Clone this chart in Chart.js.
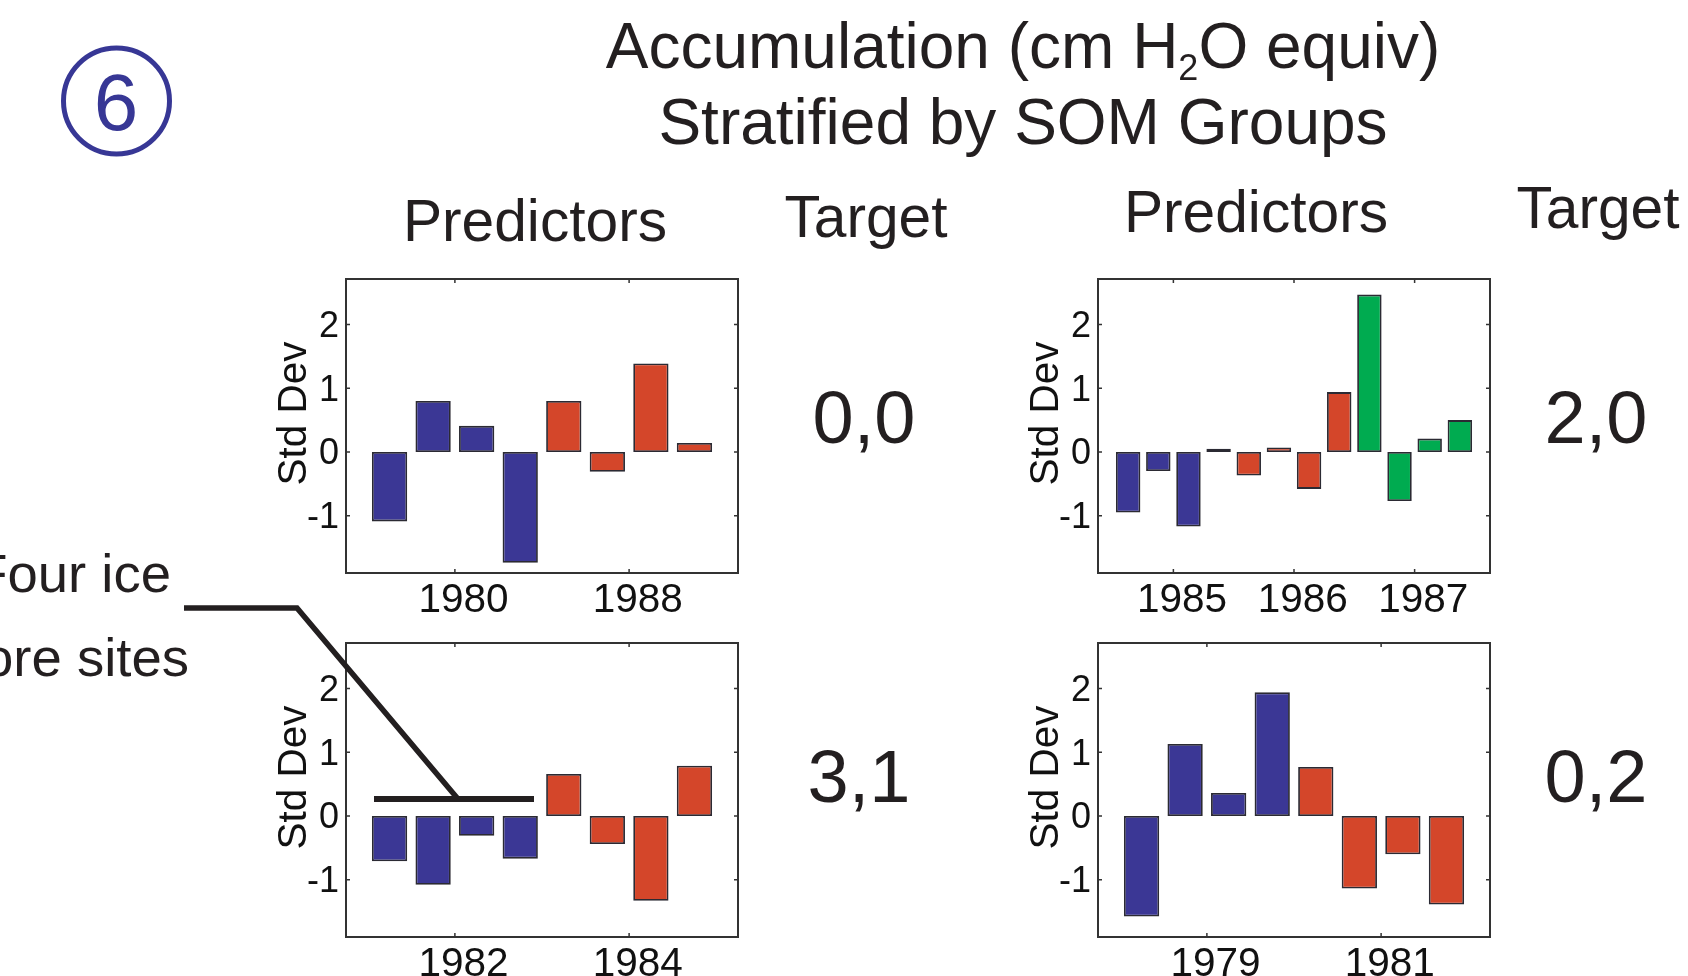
<!DOCTYPE html>
<html>
<head>
<meta charset="utf-8">
<title>Accumulation stratified by SOM groups</title>
<script src="https://cdn.jsdelivr.net/npm/chart.js@4"></script>
<style>
  html, body { margin: 0; padding: 0; background: #fff; }
  #page { position: relative; width: 1688px; height: 976px; overflow: hidden; background: #fff; }
  canvas { position: absolute; }
  #overlay { position: absolute; left: 0; top: 0; pointer-events: none; }
  #overlay text { font-family: "Liberation Sans", Arial, sans-serif; fill: #231f20; }
</style>
</head>
<body>
<div id="page">
  <canvas id="panelTL" width="522" height="364" style="left:226px;top:269px"></canvas>
  <canvas id="panelTR" width="522" height="364" style="left:978px;top:269px"></canvas>
  <canvas id="panelBL" width="522" height="364" style="left:226px;top:633px"></canvas>
  <canvas id="panelBR" width="522" height="364" style="left:978px;top:633px"></canvas>

  <svg id="overlay" width="1688" height="976">
    <circle cx="116.5" cy="101" r="53" fill="none" stroke="#373795" stroke-width="5"/>
    <text x="116" y="130" font-size="80" text-anchor="middle" style="fill:#373795">6</text>

    <text x="1023" y="68" font-size="64" text-anchor="middle">Accumulation (cm H<tspan font-size="36" dy="12">2</tspan><tspan dy="-12">O equiv)</tspan></text>
    <text x="1023" y="144" font-size="64" text-anchor="middle">Stratified by SOM Groups</text>

    <text x="535" y="241" font-size="58.7" text-anchor="middle">Predictors</text>
    <text x="866" y="237" font-size="58.7" text-anchor="middle">Target</text>
    <text x="1256" y="232" font-size="58.7" text-anchor="middle">Predictors</text>
    <text x="1598" y="228" font-size="58.7" text-anchor="middle">Target</text>

    <text x="864" y="443" font-size="74" text-anchor="middle">0,0</text>
    <text x="1596" y="443" font-size="74" text-anchor="middle">2,0</text>
    <text x="859" y="802" font-size="74" text-anchor="middle">3,1</text>
    <text x="1596" y="802" font-size="74" text-anchor="middle">0,2</text>

    <text x="171" y="592" font-size="54.5" text-anchor="end">Four ice</text>
    <text x="189" y="676" font-size="54.5" text-anchor="end">core sites</text>

    <polyline points="184,608 297,608 458,799" fill="none" stroke="#231f20" stroke-width="5.5"/>
    <line x1="374" y1="799" x2="534" y2="799" stroke="#231f20" stroke-width="6"/>
  </svg>
</div>

<script>
// Values, one bar per site per period (std dev units)
const tlValues = [-1.09, 0.80, 0.41, -1.74, 0.80, -0.31, 1.39, 0.14];
const tlGroups = [0, 0, 0, 0, 1, 1, 1, 1];
const tlTickLabels = ['1980', '1988'];

const trValues = [-0.95, -0.30, -1.17, 0.05, -0.37, 0.07, -0.58, 0.94, 2.47, -0.77, 0.21, 0.50];
const trGroups = [0, 0, 0, 0, 1, 1, 1, 1, 2, 2, 2, 2];
const trTickLabels = ['1985', '1986', '1987'];

const blValues = [-0.71, -1.08, -0.31, -0.67, 0.66, -0.44, -1.33, 0.79];
const blGroups = [0, 0, 0, 0, 1, 1, 1, 1];
const blTickLabels = ['1982', '1984'];

const brValues = [-1.58, 1.13, 0.36, 1.94, 0.77, -1.14, -0.60, -1.39];
const brGroups = [0, 0, 0, 0, 1, 1, 1, 1];
const brTickLabels = ['1979', '1981'];

const yTickValues = [-1, 0, 1, 2];
const yTitle = 'Std Dev';

const groupColors = ['#3b3795', '#d4462a', '#00ab50'];
const frameColor = '#333333';
const fontName = '"Liberation Sans", Arial, sans-serif';

// Frame, inward ticks on all four sides, and the y label (sits above the axis centre)
const framePlugin = {
  id: 'frame',
  afterDatasetsDraw(chart) {
    const { ctx, chartArea: a, scales } = chart;
    ctx.save();
    ctx.strokeStyle = frameColor;
    ctx.lineWidth = 2;
    ctx.strokeRect(a.left, a.top, a.right - a.left, a.bottom - a.top);
    ctx.lineWidth = 1.5;
    ctx.beginPath();
    scales.x.ticks.forEach(t => {
      const px = scales.x.getPixelForValue(t.value);
      ctx.moveTo(px, a.bottom); ctx.lineTo(px, a.bottom - 4);
      ctx.moveTo(px, a.top); ctx.lineTo(px, a.top + 4);
    });
    scales.y.ticks.forEach(t => {
      const py = scales.y.getPixelForValue(t.value);
      ctx.moveTo(a.left, py); ctx.lineTo(a.left + 4, py);
      ctx.moveTo(a.right, py); ctx.lineTo(a.right - 4, py);
    });
    ctx.stroke();
    ctx.translate(69, (a.top + a.bottom) / 2 - 12.5);
    ctx.rotate(-Math.PI / 2);
    ctx.fillStyle = '#111111';
    ctx.font = '40.5px ' + fontName;
    ctx.textAlign = 'center';
    ctx.textBaseline = 'middle';
    ctx.fillText(yTitle, 0, 0);
    ctx.restore();
  }
};

function makePanel(id, values, groups, tickLabels) {
  const ctx = document.getElementById(id).getContext('2d');
  return new Chart(ctx, {
    type: 'bar',
    plugins: [framePlugin],
    data: {
      labels: values.map((v, i) => i),
      datasets: [{
        data: values,
        backgroundColor: groups.map(g => groupColors[g]),
        borderColor: '#2b2a33',
        borderWidth: 1.8,
        borderSkipped: false,
        barPercentage: 0.81,
        categoryPercentage: 1
      }]
    },
    options: {
      responsive: false,
      animation: false,
      layout: { autoPadding: false, padding: { top: 10, right: 10, left: 0, bottom: 0 } },
      plugins: { legend: { display: false }, tooltip: { enabled: false } },
      scales: {
        x: {
          type: 'linear',
          offset: false, // bar charts turn this on by default
          min: -1,
          max: values.length,
          grid: { display: false, drawTicks: false, offset: false },
          border: { display: false },
          // one tick per year, every four bars, between the 2nd and 3rd site
          afterBuildTicks: axis => { axis.ticks = tickLabels.map((l, i) => ({ value: 1.5 + 4 * i })); },
          afterFit: axis => { axis.height = 60; axis.paddingLeft = 0; axis.paddingRight = 0; },
          ticks: {
            autoSkip: false,
            maxRotation: 0,
            color: '#111111',
            padding: 4,
            labelOffset: 8.7,
            font: { family: fontName, size: 40.5 },
            callback: (v, i) => tickLabels[i]
          }
        },
        y: {
          min: -1.90,
          max: 2.715,
          grid: { display: false, drawTicks: false },
          border: { display: false },
          afterBuildTicks: axis => { axis.ticks = yTickValues.map(v => ({ value: v })); },
          afterFit: axis => { axis.width = 120; axis.paddingTop = 0; axis.paddingBottom = 0; },
          ticks: {
            color: '#111111',
            padding: 7,
            labelOffset: 2.5,
            font: { family: fontName, size: 36 },
            callback: v => String(v)
          }
        }
      }
    }
  });
}

makePanel('panelTL', tlValues, tlGroups, tlTickLabels);
makePanel('panelTR', trValues, trGroups, trTickLabels);
makePanel('panelBL', blValues, blGroups, blTickLabels);
makePanel('panelBR', brValues, brGroups, brTickLabels);
</script>
</body>
</html>
